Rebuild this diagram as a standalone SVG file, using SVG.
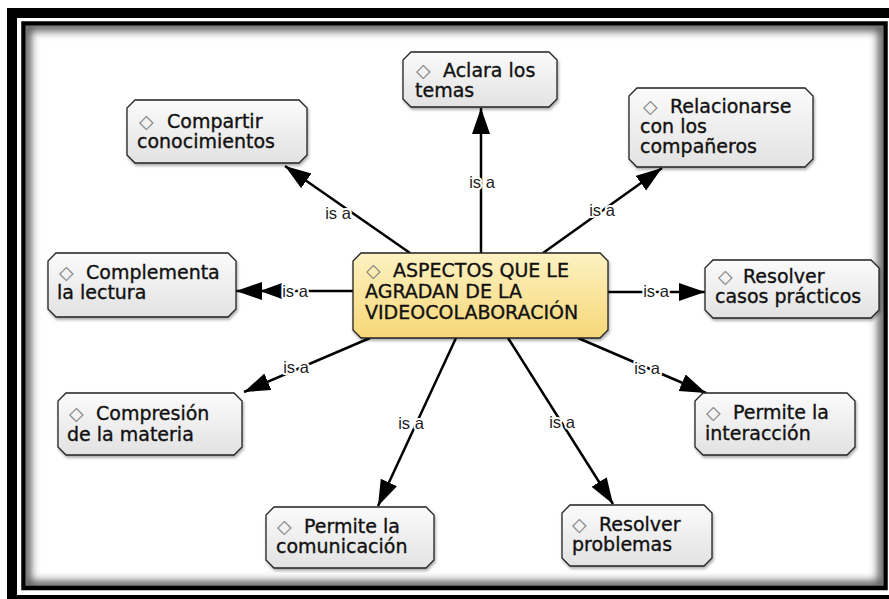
<svg xmlns="http://www.w3.org/2000/svg" width="889" height="599" viewBox="0 0 889 599">
<defs>
<style>
.node polygon{stroke:#222;stroke-width:1.3;fill:url(#gGray);filter:url(#sh)}
#n-center polygon{fill:url(#gYel)}
.t{font-family:"DejaVu Sans","Liberation Sans",sans-serif;font-size:19px;fill:#111;stroke:#111;stroke-width:0.35}
.d{font-family:"DejaVu Sans",sans-serif;font-size:19px;fill:#808080}
.c line{stroke:#000;stroke-width:2.5;marker-end:url(#arr)}
.lbl{font-family:"Liberation Sans","DejaVu Sans",sans-serif;font-size:16.5px;fill:#222;text-anchor:middle;stroke:#fff;stroke-width:4;paint-order:stroke;stroke-linejoin:round}
</style>
<linearGradient id="gGray" x1="0" y1="0" x2="0" y2="1"><stop offset="0" stop-color="#fbfbfb"/><stop offset="1" stop-color="#e2e2e2"/></linearGradient>
<linearGradient id="gYel" x1="0" y1="0" x2="0" y2="1"><stop offset="0" stop-color="#fdf2c2"/><stop offset="1" stop-color="#f7d778"/></linearGradient>
<filter id="sh" x="-10%" y="-10%" width="125%" height="135%"><feDropShadow dx="1" dy="2" stdDeviation="1.8" flood-color="#000" flood-opacity="0.35"/></filter>
<filter id="blur" x="-5%" y="-5%" width="110%" height="110%"><feGaussianBlur stdDeviation="4"/></filter>
<clipPath id="inner"><rect x="26" y="26" width="857" height="560"/></clipPath>
<marker id="arr" markerUnits="userSpaceOnUse" markerWidth="28" markerHeight="20" refX="26" refY="9" orient="auto"><path d="M0,0 L26,9 L0,18 z" fill="#000"/></marker>
</defs>
<rect width="889" height="599" fill="#fff"/>
<g id="frame">
<rect x="12" y="13" width="883" height="587" fill="none" stroke="#000" stroke-width="10"/>
<g clip-path="url(#inner)"><rect x="26" y="26" width="857" height="560" fill="none" stroke="#555" stroke-width="10" filter="url(#blur)"/></g>
<rect x="23.5" y="23.5" width="862" height="564.5" fill="none" stroke="#000" stroke-width="4.5"/>
</g>
<g id="connectors" class="c">
<line x1="481" y1="253" x2="481" y2="108"/>
<line x1="410" y1="253" x2="285" y2="166"/>
<line x1="543" y1="253" x2="662" y2="168"/>
<line x1="353" y1="291" x2="236" y2="291"/>
<path d="M260,291 L282,283 L282,299 z" fill="#000"/>
<line x1="608" y1="292" x2="705" y2="292"/>
<line x1="370" y1="338" x2="244" y2="392"/>
<line x1="578" y1="338" x2="706" y2="393"/>
<line x1="456" y1="338" x2="378" y2="506"/>
<line x1="508" y1="338" x2="613" y2="504"/>
<text class="lbl" x="482" y="188">is a</text>
<text class="lbl" x="338" y="219">is a</text>
<text class="lbl" x="602" y="216">is a</text>
<text class="lbl" x="295" y="297">is a</text>
<text class="lbl" x="656" y="297">is a</text>
<text class="lbl" x="296" y="373">is a</text>
<text class="lbl" x="647" y="374">is a</text>
<text class="lbl" x="411" y="429">is a</text>
<text class="lbl" x="562" y="428">is a</text>
</g>
<g id="n-aclara" class="node">
<polygon points="411,52 549,52 557,60 557,99 549,107 411,107 403,99 403,60"/>
<text class="d" x="416" y="77">◇</text>
<text class="t" x="443" y="77">Aclara los</text>
<text class="t" x="415" y="97">temas</text>
</g>
<g id="n-compartir" class="node">
<polygon points="135,100 299,100 307,108 307,155 299,163 135,163 127,155 127,108"/>
<text class="d" x="139" y="128">◇</text>
<text class="t" x="167" y="128">Compartir</text>
<text class="t" x="137" y="148">conocimientos</text>
</g>
<g id="n-relacionarse" class="node">
<polygon points="637,88 805,88 813,96 813,159 805,167 637,167 629,159 629,96"/>
<text class="d" x="643" y="113">◇</text>
<text class="t" x="670" y="113">Relacionarse</text>
<text class="t" x="640" y="133">con los</text>
<text class="t" x="640" y="153">compañeros</text>
</g>
<g id="n-complementa" class="node">
<polygon points="56,253 228,253 236,261 236,309 228,317 56,317 48,309 48,261"/>
<text class="d" x="59" y="279">◇</text>
<text class="t" x="86" y="279">Complementa</text>
<text class="t" x="57" y="299">la lectura</text>
</g>
<g id="n-center" class="node">
<polygon points="361,253 600,253 608,261 608,330 600,338 361,338 353,330 353,261"/>
<text class="d" x="366" y="277">◇</text>
<text class="t" x="393" y="277">ASPECTOS QUE LE</text>
<text class="t" x="365" y="298">AGRADAN DE LA</text>
<text class="t" x="365" y="319">VIDEOCOLABORACIÓN</text>
</g>
<g id="n-casos" class="node">
<polygon points="713,260 871,260 879,268 879,310 871,318 713,318 705,310 705,268"/>
<text class="d" x="718" y="283">◇</text>
<text class="t" x="743" y="283">Resolver</text>
<text class="t" x="715" y="303">casos prácticos</text>
</g>
<g id="n-compresion" class="node">
<polygon points="66,393 234,393 242,401 242,447 234,455 66,455 58,447 58,401"/>
<text class="d" x="69" y="420">◇</text>
<text class="t" x="96" y="420">Compresión</text>
<text class="t" x="67" y="441">de la materia</text>
</g>
<g id="n-interaccion" class="node">
<polygon points="703,393 847,393 855,401 855,447 847,455 703,455 695,447 695,401"/>
<text class="d" x="706" y="419">◇</text>
<text class="t" x="733" y="419">Permite la</text>
<text class="t" x="705" y="440">interacción</text>
</g>
<g id="n-comunicacion" class="node">
<polygon points="274,507 426,507 434,515 434,560 426,568 274,568 266,560 266,515"/>
<text class="d" x="277" y="533">◇</text>
<text class="t" x="304" y="533">Permite la</text>
<text class="t" x="276" y="553">comunicación</text>
</g>
<g id="n-problemas" class="node">
<polygon points="570,505 704,505 712,513 712,558 704,566 570,566 562,558 562,513"/>
<text class="d" x="572" y="531">◇</text>
<text class="t" x="599" y="531">Resolver</text>
<text class="t" x="572" y="551">problemas</text>
</g>
</svg>
